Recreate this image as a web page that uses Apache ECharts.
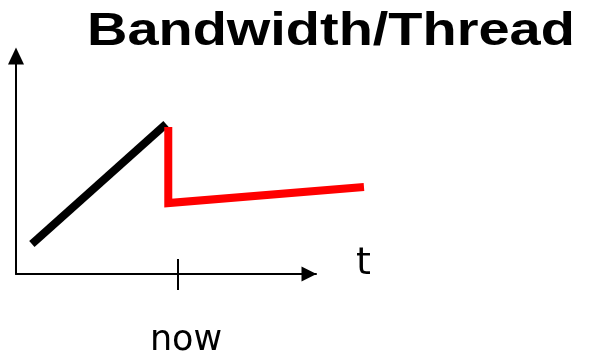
<!DOCTYPE html>
<html>
<head>
<meta charset="utf-8">
<script src="https://cdn.jsdelivr.net/npm/echarts@6/dist/echarts.min.js"></script>
<style>
  html, body { margin: 0; padding: 0; background: #fff; }
  #chart { width: 591px; height: 355px; }
</style>
</head>
<body>
<div id="chart"></div>
<script>
  // time on x (now = 5), bandwidth per thread on y
  const bwBefore = [[0.49, 1.35], [4.63, 6.73]]
  const bwAfter = [[4.7, 6.59], [4.7, 3.18], [10.74, 3.9]]
  const nowTick = [5]
  const nowLabel = 'now'
  const xName = 't'
  const title = 'Bandwidth/Thread'

  const chart = echarts.init(document.getElementById('chart'))
  chart.setOption({
    animation: false,
    // grid 0 carries the axes, grid 1 (same scale, wider) carries the lines
    grid: [
      { left: 16, top: 51, width: 300, height: 223, outerBoundsMode: 'none' },
      { left: 16, top: 51, width: 356.4, height: 223, outerBoundsMode: 'none' }
    ],
    graphic: [{
      type: 'text',
      x: 87,
      y: 9,
      scaleX: 1.19,
      style: {
        text: title,
        font: 'bold 47px "Liberation Sans"',
        fill: '#000',
        verticalAlign: 'top'
      }
    }],
    xAxis: [
      {
        type: 'value',
        gridIndex: 0,
        min: 0,
        max: 9.26,
        name: xName,
        nameLocation: 'end',
        nameGap: 40,
        nameTextStyle: {
          fontFamily: 'DejaVu Sans',
          fontSize: 38,
          color: '#000',
          verticalAlign: 'bottom',
          lineHeight: 20
        },
        splitLine: { show: false },
        axisLine: {
          lineStyle: { color: '#000', width: 2 },
          symbol: ['none', 'triangle'],
          symbolSize: [15, 15],
          symbolOffset: [0, -7]
        },
        axisTick: { customValues: nowTick, length: 16, inside: false, lineStyle: { color: '#000', width: 2 } },
        axisLabel: {
          customValues: nowTick,
          formatter: () => nowLabel,
          margin: 49,
          fontFamily: 'DejaVu Sans',
          fontSize: 35,
          color: '#000',
          padding: [0, 0, 0, 16]
        }
      },
      {
        type: 'value',
        gridIndex: 0,
        min: 0,
        max: 9.26,
        position: 'bottom',
        splitLine: { show: false },
        axisLine: { show: false },
        axisTick: { customValues: nowTick, length: 15, inside: true, lineStyle: { color: '#000', width: 2 } },
        axisLabel: { show: false }
      },
      {
        type: 'value',
        gridIndex: 1,
        min: 0,
        max: 11,
        show: false
      }
    ],
    yAxis: [
      {
        type: 'value',
        gridIndex: 0,
        min: 0,
        max: 10,
        splitLine: { show: false },
        axisTick: { show: false },
        axisLabel: { show: false },
        axisLine: {
          lineStyle: { color: '#000', width: 2 },
          symbol: ['none', 'triangle'],
          symbolSize: [16, 17],
          symbolOffset: [0, -5]
        }
      },
      {
        type: 'value',
        gridIndex: 1,
        min: 0,
        max: 10,
        show: false
      }
    ],
    series: [
      {
        type: 'line',
        xAxisIndex: 2,
        yAxisIndex: 1,
        data: bwBefore,
        showSymbol: false,
        lineStyle: { color: '#000', width: 8 }
      },
      {
        type: 'line',
        xAxisIndex: 2,
        yAxisIndex: 1,
        data: bwAfter,
        showSymbol: false,
        lineStyle: { color: '#ff0000', width: 8, join: 'miter' }
      }
    ]
  })
</script>
</body>
</html>
